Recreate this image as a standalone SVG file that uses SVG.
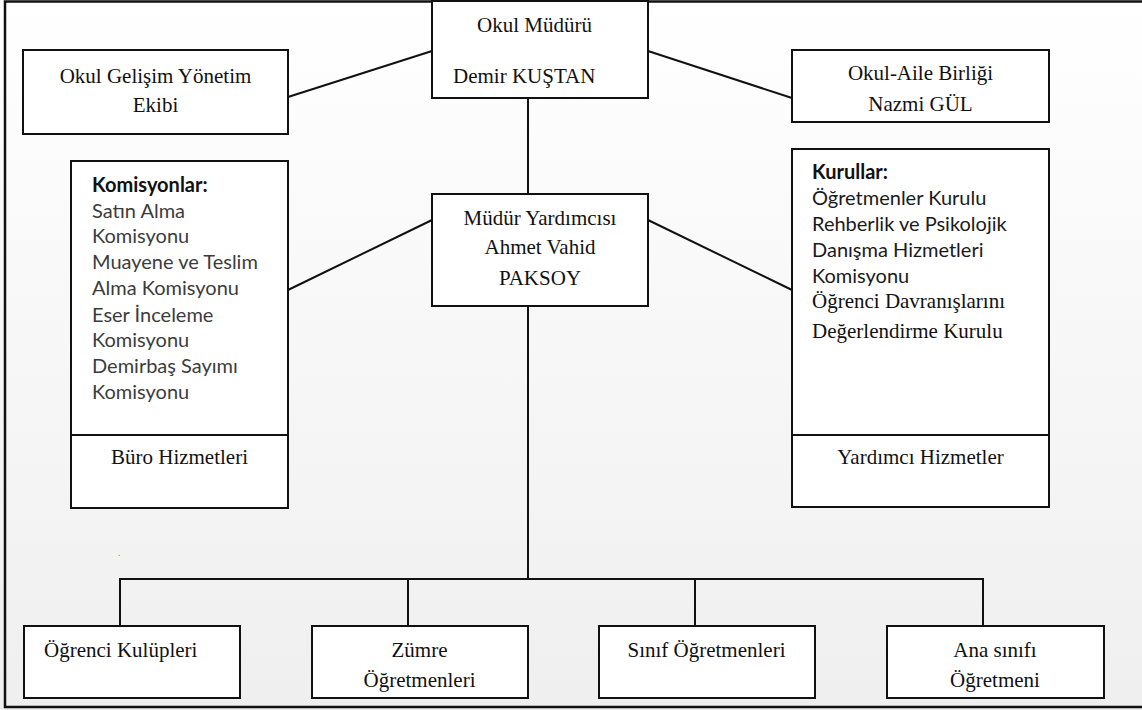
<svg xmlns="http://www.w3.org/2000/svg" width="1142" height="710" viewBox="0 0 1142 710">
<defs>
<linearGradient id="bg" x1="0" y1="0" x2="0" y2="1">
<stop offset="0" stop-color="#ffffff"/>
<stop offset="1" stop-color="#efefef"/>
</linearGradient>
</defs>
<style>
.box{fill:#ffffff;stroke:#111111;stroke-width:2}
.ln{fill:none;stroke:#111111;stroke-width:2}
.frame{fill:none;stroke:#111111;stroke-width:2.5}
.t{font-family:"Liberation Serif","Times New Roman",serif;font-size:21px;fill:#111111}
.c{text-anchor:middle}
.s{font-family:Lato,"Open Sans","Noto Sans",sans-serif;font-size:20px;fill:#3c3c3c}
.sb{font-family:Lato,"Open Sans","Noto Sans",sans-serif;font-size:20px;font-weight:bold;fill:#111111}
.sk{fill:#1a1a1a}
</style>
<rect x="0" y="0" width="1142" height="710" fill="url(#bg)"/>
<path class="frame" d="M1142,1.5 H5 V707 H1142"/>
<text x="118" y="556" font-family="Liberation Serif, serif" font-size="10" fill="#888888">.</text>

<g id="connectors">
<line class="ln" x1="288" y1="97" x2="432" y2="51"/>
<line class="ln" x1="648" y1="51" x2="792" y2="98"/>
<line class="ln" x1="528" y1="98" x2="528" y2="194"/>
<line class="ln" x1="288" y1="290" x2="432" y2="220"/>
<line class="ln" x1="648" y1="220" x2="792" y2="290"/>
<line class="ln" x1="528" y1="256" x2="528" y2="579"/>
<path class="ln" d="M120,626 V579 H983 V626 M408,579 V626 M695,579 V626"/>
</g>

<g id="okul-muduru">
<rect class="box" x="432" y="1" width="216" height="97"/>
<text class="t" x="477" y="32">Okul Müdürü</text>
<text class="t" x="453" y="83">Demir KUŞTAN</text>
</g>

<g id="okul-gelisim">
<rect class="box" x="23" y="50" width="265" height="84"/>
<text class="t c" x="155.5" y="83">Okul Gelişim Yönetim</text>
<text class="t c" x="155.5" y="112">Ekibi</text>
</g>

<g id="okul-aile">
<rect class="box" x="792" y="50" width="257" height="72"/>
<text class="t c" x="920.5" y="80">Okul-Aile Birliği</text>
<text class="t c" x="920.5" y="111">Nazmi GÜL</text>
</g>

<g id="mudur-yardimcisi">
<rect class="box" x="432" y="194" width="216" height="112"/>
<text class="t c" x="540" y="225">Müdür Yardımcısı</text>
<text class="t c" x="540" y="254">Ahmet Vahid</text>
<text class="t c" x="540" y="285">PAKSOY</text>
</g>

<g id="komisyonlar">
<rect class="box" x="71" y="161" width="217" height="347"/>
<line class="ln" x1="71" y1="435" x2="288" y2="435"/>
<text class="sb" x="92" y="192">Komisyonlar:</text>
<text class="s" x="92" y="218">Satın Alma</text>
<text class="s" x="92" y="243">Komisyonu</text>
<text class="s" x="92" y="269">Muayene ve Teslim</text>
<text class="s" x="92" y="295">Alma Komisyonu</text>
<text class="s" x="92" y="322">Eser İnceleme</text>
<text class="s" x="92" y="347">Komisyonu</text>
<text class="s" x="92" y="373">Demirbaş Sayımı</text>
<text class="s" x="92" y="399">Komisyonu</text>
<text class="t c" x="179.5" y="464">Büro Hizmetleri</text>
</g>

<g id="kurullar">
<rect class="box" x="792" y="149" width="257" height="358"/>
<line class="ln" x1="792" y1="435" x2="1049" y2="435"/>
<text class="sb" x="812" y="179">Kurullar:</text>
<text class="s sk" x="812" y="205">Öğretmenler Kurulu</text>
<text class="s sk" x="812" y="231">Rehberlik ve Psikolojik</text>
<text class="s sk" x="812" y="257">Danışma Hizmetleri</text>
<text class="s sk" x="812" y="283">Komisyonu</text>
<text class="t" x="812" y="308">Öğrenci Davranışlarını</text>
<text class="t" x="812" y="338">Değerlendirme Kurulu</text>
<text class="t c" x="920.5" y="464">Yardımcı Hizmetler</text>
</g>

<g id="ogrenci-kulupleri">
<rect class="box" x="24" y="626" width="216" height="72"/>
<text class="t" x="44" y="657">Öğrenci Kulüpleri</text>
</g>

<g id="zumre">
<rect class="box" x="312" y="626" width="216" height="72"/>
<text class="t c" x="419.5" y="657">Zümre</text>
<text class="t c" x="419.5" y="687">Öğretmenleri</text>
</g>

<g id="sinif">
<rect class="box" x="599" y="626" width="216" height="72"/>
<text class="t c" x="706.5" y="657">Sınıf Öğretmenleri</text>
</g>

<g id="ana-sinifi">
<rect class="box" x="887" y="626" width="217" height="72"/>
<text class="t c" x="995" y="657">Ana sınıfı</text>
<text class="t c" x="995" y="687">Öğretmeni</text>
</g>
</svg>
